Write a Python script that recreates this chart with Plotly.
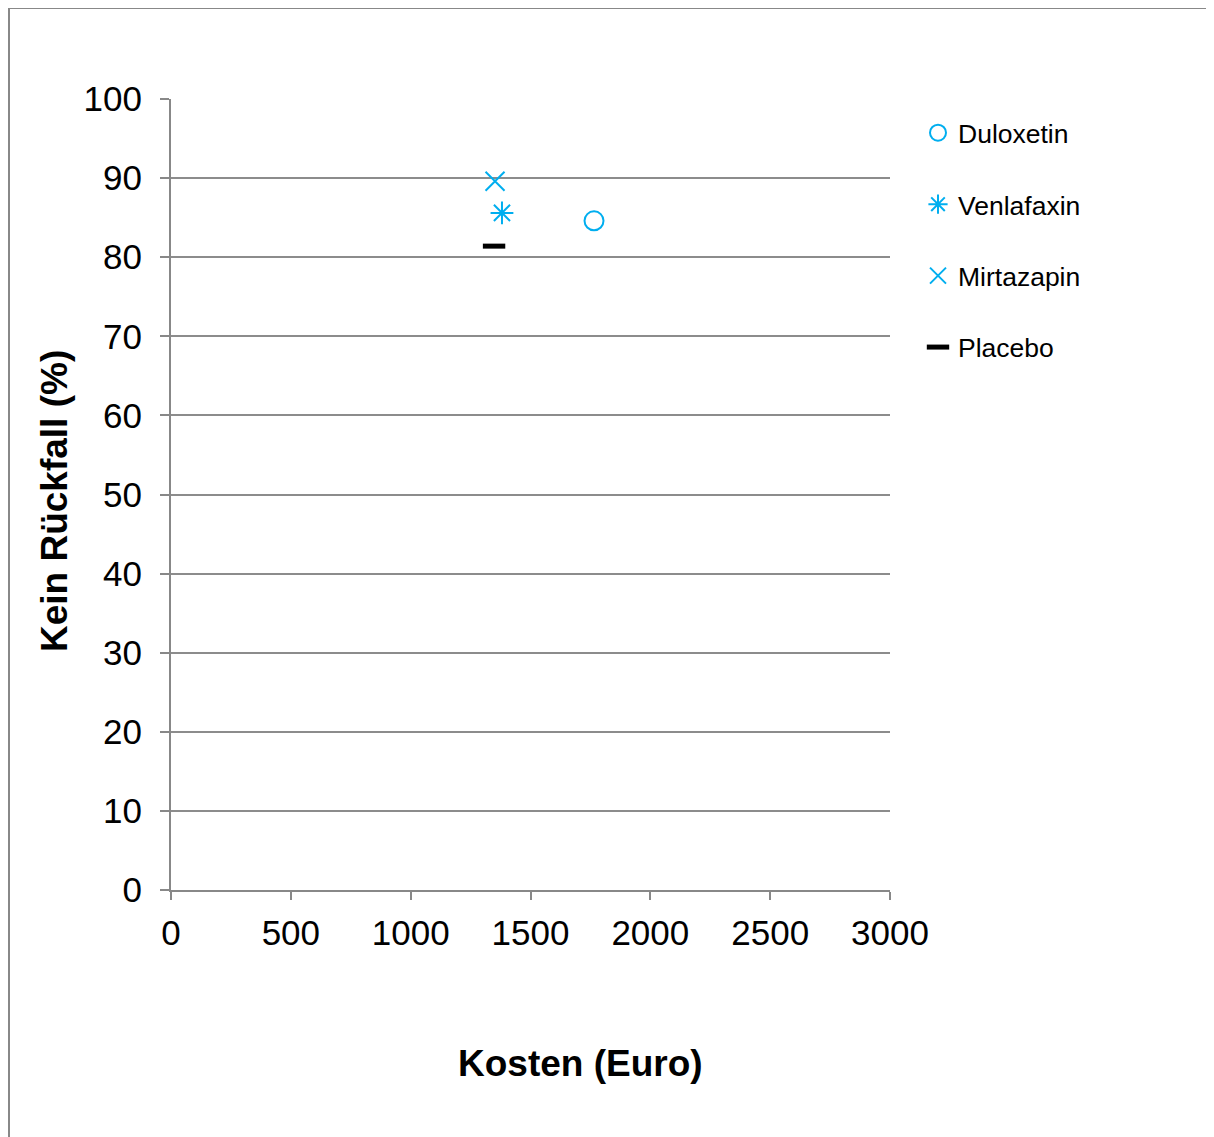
import plotly.graph_objects as go

names = ["Duloxetin", "Venlafaxin", "Mirtazapin", "Placebo"]
kosten = [1765, 1381, 1352, 1348]
kein_rueckfall = [84.6, 85.6, 89.6, 81.4]
symbols = ["circle-open", "asterisk-open", "x-thin-open", "line-ew-open"]
colors = ["#00AEEF", "#00AEEF", "#00AEEF", "#000000"]
sizes = [19, 19, 19, 16]
widths = [2, 2, 2, 5]

fig = go.Figure()
for i, n in enumerate(names):
    fig.add_trace(go.Scatter(
        x=[kosten[i]], y=[kein_rueckfall[i]], mode="markers", name=n,
        legendgroup=n,
        marker=dict(symbol=symbols[i], size=sizes[i], color=colors[i],
                    line=dict(width=widths[i], color=colors[i])),
    ))

OFF = 8  # page offset of the figure
W, H = 1214 - OFF, 1137 - OFF
L, R, T, B = 171 - OFF, 890 - OFF, 99 - OFF, 890 - OFF
pw, ph = R - L, B - T

def px(x):
    return (x - OFF - L) / pw

def py(y):
    return (B - (y - OFF)) / ph

fig.update_layout(
    width=W, height=H,
    margin=dict(l=L, r=W - R, t=T, b=H - B, pad=0),
    paper_bgcolor="white", plot_bgcolor="white",
    font=dict(family="Liberation Sans, Arial, sans-serif", color="#000000"),
    showlegend=True,
    legend=dict(x=px(918), y=py(109), xanchor="left", yanchor="top",
                font=dict(size=26.5), itemwidth=30, tracegroupgap=34,
                bgcolor="rgba(0,0,0,0)"),
    xaxis=dict(range=[0, 3000], dtick=500, showgrid=False, zeroline=False,
               showline=True, linecolor="#888888", linewidth=2,
               ticks="outside", ticklen=8, tickcolor="#888888", tickwidth=2,
               tickfont=dict(size=35), ticklabelstandoff=3),
    yaxis=dict(range=[0, 100], dtick=10, showgrid=True, gridcolor="#8c8c8c", gridwidth=2,
               zeroline=False, showline=True, linecolor="#888888", linewidth=2,
               ticks="outside", ticklen=9, tickcolor="#888888", tickwidth=2,
               tickfont=dict(size=35), ticklabelstandoff=11),
)

fig.add_annotation(text="<b>Kosten (Euro)</b>", xref="paper", yref="paper",
                   x=px(580), y=py(1063), showarrow=False,
                   font=dict(size=37), xanchor="center", yanchor="middle")
fig.add_annotation(text="<b>Kein Rückfall (%)</b>", xref="paper", yref="paper",
                   x=px(55), y=py(501), showarrow=False, textangle=-90,
                   font=dict(size=37), xanchor="center", yanchor="middle")

# outer chart border (top and left visible)
fig.add_shape(type="line", xref="paper", yref="paper",
              x0=px(9), x1=px(1230), y0=py(8), y1=py(8),
              line=dict(color="#888888", width=2))
fig.add_shape(type="line", xref="paper", yref="paper",
              x0=px(9), x1=px(9), y0=py(8), y1=py(1150),
              line=dict(color="#888888", width=2))

fig.write_html("out.html")
